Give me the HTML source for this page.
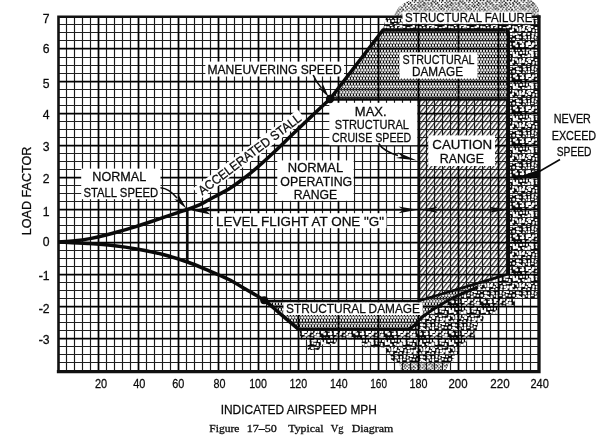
<!DOCTYPE html>
<html lang="en"><head><meta charset="utf-8"><title>Typical Vg Diagram</title>
<style>html,body{margin:0;padding:0;background:#fff}body{width:601px;height:438px;overflow:hidden}svg{display:block}.s{font-family:"Liberation Sans",sans-serif;font-size:12.8px;fill:#0a0a0a;stroke:#0a0a0a;stroke-width:.27px}.c{font-family:"Liberation Serif",serif;font-size:10.4px;fill:#111;stroke:#111;stroke-width:.3px}</style></head><body>
<svg width="601" height="438" viewBox="0 0 601 438">
<defs>
<pattern id="fine" width="3" height="5.5" patternUnits="userSpaceOnUse"><rect width="3" height="5.5" fill="#0c0c0c"/><rect x="-0.45" y="0.2" width="2.4" height="2.35" rx=".7" fill="#fff"/><rect x="1.05" y="2.95" width="2.4" height="2.35" rx=".7" fill="#fff"/><rect x="-1.95" y="2.95" width="2.4" height="2.35" rx=".7" fill="#fff"/></pattern>
<pattern id="coarse" width="32" height="32" patternUnits="userSpaceOnUse"><rect width="32" height="32" fill="#0c0c0c"/><g fill="#fff"><rect x="0.46" y="1.13" width="2.5" height="2.56" rx=".9"/><rect x="32.46" y="1.13" width="2.5" height="2.56" rx=".9"/><rect x="2.83" y="0.13" width="2.74" height="2.99" rx=".9"/><rect x="2.83" y="32.13" width="2.74" height="2.99" rx=".9"/><rect x="6.12" y="-0.6" width="3.01" height="2.84" rx=".9"/><rect x="6.12" y="31.4" width="3.01" height="2.84" rx=".9"/><rect x="10.73" y="1.12" width="2.78" height="2.72" rx=".9"/><rect x="12.53" y="0.61" width="1.89" height="2.09" rx=".9"/><rect x="12.53" y="32.61" width="1.89" height="2.09" rx=".9"/><rect x="15.48" y="-0" width="2.46" height="3.06" rx=".9"/><rect x="15.48" y="32" width="2.46" height="3.06" rx=".9"/><rect x="19.67" y="0.36" width="2.79" height="2.49" rx=".9"/><rect x="19.67" y="32.36" width="2.79" height="2.49" rx=".9"/><rect x="23.42" y="1.11" width="3.06" height="2.86" rx=".9"/><rect x="25.73" y="-0.28" width="1.91" height="2.95" rx=".9"/><rect x="25.73" y="31.72" width="1.91" height="2.95" rx=".9"/><rect x="-2.56" y="-0.15" width="3.24" height="3.07" rx=".9"/><rect x="-2.56" y="31.85" width="3.24" height="3.07" rx=".9"/><rect x="29.44" y="-0.15" width="3.24" height="3.07" rx=".9"/><rect x="29.44" y="31.85" width="3.24" height="3.07" rx=".9"/><rect x="3.94" y="3.54" width="3.27" height="2.4" rx=".9"/><rect x="7.14" y="4.36" width="2.2" height="1.93" rx=".9"/><rect x="11.09" y="4.21" width="1.98" height="2.17" rx=".9"/><rect x="12.53" y="4.04" width="2.07" height="2.64" rx=".9"/><rect x="16.01" y="3.86" width="2" height="2.77" rx=".9"/><rect x="19.55" y="2.63" width="2.2" height="3.26" rx=".9"/><rect x="22.57" y="4.34" width="2.12" height="2.39" rx=".9"/><rect x="25.83" y="2.98" width="3.28" height="2.12" rx=".9"/><rect x="-2.2" y="3.52" width="2.24" height="1.91" rx=".9"/><rect x="29.8" y="3.52" width="2.24" height="1.91" rx=".9"/><rect x="0.41" y="6.33" width="2.7" height="2.36" rx=".9"/><rect x="32.41" y="6.33" width="2.7" height="2.36" rx=".9"/><rect x="4.34" y="6.42" width="2.66" height="3.1" rx=".9"/><rect x="5.83" y="7.69" width="3.03" height="2.17" rx=".9"/><rect x="10.61" y="7.22" width="2.09" height="3.23" rx=".9"/><rect x="13.62" y="6.92" width="1.96" height="1.86" rx=".9"/><rect x="16.01" y="6.87" width="2.19" height="3.04" rx=".9"/><rect x="18.97" y="6.43" width="2.88" height="1.9" rx=".9"/><rect x="22.75" y="7.56" width="2.72" height="2.22" rx=".9"/><rect x="25.54" y="5.85" width="2.2" height="2.47" rx=".9"/><rect x="28.46" y="6.75" width="2.66" height="2" rx=".9"/><rect x="0.95" y="10.69" width="2.79" height="2.84" rx=".9"/><rect x="3.2" y="8.73" width="1.83" height="3.17" rx=".9"/><rect x="7.5" y="9.03" width="2.75" height="2.52" rx=".9"/><rect x="9.9" y="10.84" width="1.91" height="2.62" rx=".9"/><rect x="13.73" y="10.16" width="2.86" height="2.99" rx=".9"/><rect x="15.74" y="10" width="3.15" height="3.11" rx=".9"/><rect x="20.02" y="10.52" width="2.66" height="2.74" rx=".9"/><rect x="23.2" y="10.03" width="1.92" height="2.76" rx=".9"/><rect x="26.73" y="10.18" width="2.38" height="2.9" rx=".9"/><rect x="-2.68" y="10.38" width="1.93" height="2.93" rx=".9"/><rect x="29.32" y="10.38" width="1.93" height="2.93" rx=".9"/><rect x="3.34" y="12.61" width="2.85" height="2.55" rx=".9"/><rect x="7.89" y="12.81" width="1.82" height="2.25" rx=".9"/><rect x="9.06" y="12.38" width="3.16" height="2.79" rx=".9"/><rect x="13.74" y="13.02" width="2.8" height="2.1" rx=".9"/><rect x="16.62" y="14" width="3.12" height="2.38" rx=".9"/><rect x="19.18" y="12.18" width="2.54" height="3.06" rx=".9"/><rect x="23.29" y="14.23" width="2.22" height="2.05" rx=".9"/><rect x="25.56" y="12.49" width="2.42" height="2.74" rx=".9"/><rect x="-3.59" y="13.8" width="3.27" height="2.48" rx=".9"/><rect x="28.41" y="13.8" width="3.27" height="2.48" rx=".9"/><rect x="-0.22" y="16.88" width="1.86" height="2.86" rx=".9"/><rect x="31.78" y="16.88" width="1.86" height="2.86" rx=".9"/><rect x="3.52" y="17.15" width="1.83" height="2" rx=".9"/><rect x="6.02" y="17.22" width="2.16" height="2.01" rx=".9"/><rect x="10.07" y="16.11" width="2.74" height="2.78" rx=".9"/><rect x="14.22" y="16.69" width="2.1" height="2.51" rx=".9"/><rect x="15.23" y="16.51" width="2.87" height="2.07" rx=".9"/><rect x="19.22" y="16.61" width="2.58" height="2.72" rx=".9"/><rect x="22.22" y="17.19" width="3.16" height="1.93" rx=".9"/><rect x="26.38" y="15.53" width="2.48" height="2.74" rx=".9"/><rect x="-3.39" y="16.23" width="3.12" height="3" rx=".9"/><rect x="28.61" y="16.23" width="3.12" height="3" rx=".9"/><rect x="0.48" y="19.65" width="2.11" height="2.88" rx=".9"/><rect x="32.48" y="19.65" width="2.11" height="2.88" rx=".9"/><rect x="4.01" y="19.64" width="2.12" height="3.15" rx=".9"/><rect x="7.41" y="19.73" width="2.99" height="2.28" rx=".9"/><rect x="10.91" y="19.28" width="1.92" height="2.46" rx=".9"/><rect x="13.99" y="19.27" width="1.84" height="3.01" rx=".9"/><rect x="17.02" y="18.69" width="2.3" height="2.98" rx=".9"/><rect x="18.69" y="19.3" width="2.89" height="3.06" rx=".9"/><rect x="23.24" y="19.82" width="3.22" height="1.93" rx=".9"/><rect x="25.8" y="19.02" width="2.89" height="2.76" rx=".9"/><rect x="-2.08" y="19.73" width="2.27" height="2.37" rx=".9"/><rect x="29.92" y="19.73" width="2.27" height="2.37" rx=".9"/><rect x="0.82" y="21.82" width="3.08" height="3.25" rx=".9"/><rect x="3.64" y="22.15" width="2.6" height="2.55" rx=".9"/><rect x="5.82" y="23.69" width="2.57" height="2.4" rx=".9"/><rect x="9.9" y="23.03" width="2.84" height="1.9" rx=".9"/><rect x="12.64" y="23.77" width="3.19" height="2.2" rx=".9"/><rect x="15.38" y="22.3" width="3.02" height="3.15" rx=".9"/><rect x="19.09" y="21.82" width="2.73" height="3.19" rx=".9"/><rect x="23.49" y="22.02" width="2.09" height="2.14" rx=".9"/><rect x="25.5" y="22.75" width="2.73" height="1.96" rx=".9"/><rect x="28.6" y="22.97" width="2.18" height="2.1" rx=".9"/><rect x="0.27" y="25.67" width="2.42" height="2.59" rx=".9"/><rect x="32.27" y="25.67" width="2.42" height="2.59" rx=".9"/><rect x="2.86" y="26.15" width="2.76" height="2.59" rx=".9"/><rect x="7.14" y="26.42" width="2.15" height="2.91" rx=".9"/><rect x="10.83" y="25.26" width="2.27" height="3.18" rx=".9"/><rect x="14.35" y="26.86" width="2" height="2.16" rx=".9"/><rect x="15.62" y="25.22" width="3.05" height="2.43" rx=".9"/><rect x="18.68" y="26.1" width="2.83" height="1.83" rx=".9"/><rect x="22.72" y="27" width="3.25" height="1.97" rx=".9"/><rect x="26.28" y="26.16" width="2.83" height="2.08" rx=".9"/><rect x="28.34" y="25.04" width="2.63" height="2.57" rx=".9"/><rect x="-0.12" y="28.27" width="2.11" height="3.06" rx=".9"/><rect x="31.88" y="28.27" width="2.11" height="3.06" rx=".9"/><rect x="4.66" y="28.02" width="1.89" height="3.23" rx=".9"/><rect x="7.25" y="-3.22" width="2.5" height="2.57" rx=".9"/><rect x="7.25" y="28.78" width="2.5" height="2.57" rx=".9"/><rect x="9.97" y="27.94" width="2.85" height="3.07" rx=".9"/><rect x="13.11" y="-2.19" width="2.41" height="2.09" rx=".9"/><rect x="13.11" y="29.81" width="2.41" height="2.09" rx=".9"/><rect x="16.05" y="27.98" width="3.14" height="3" rx=".9"/><rect x="20.28" y="-2.7" width="2.41" height="2.7" rx=".9"/><rect x="20.28" y="29.3" width="2.41" height="2.7" rx=".9"/><rect x="23.82" y="-2.6" width="2.19" height="3.17" rx=".9"/><rect x="23.82" y="29.4" width="2.19" height="3.17" rx=".9"/><rect x="26.52" y="-2.57" width="2.41" height="3.14" rx=".9"/><rect x="26.52" y="29.43" width="2.41" height="3.14" rx=".9"/><rect x="-2.7" y="-2.3" width="2.95" height="2.41" rx=".9"/><rect x="-2.7" y="29.7" width="2.95" height="2.41" rx=".9"/><rect x="29.3" y="-2.3" width="2.95" height="2.41" rx=".9"/><rect x="29.3" y="29.7" width="2.95" height="2.41" rx=".9"/></g></pattern>
<pattern id="dots" width="27.2" height="27.2" patternUnits="userSpaceOnUse"><path fill="#0c0c0c" d="M-0.07 0.15h1.32v1.46h-1.32zM3.82 -0.26h1.11v1.6h-1.11zM6.56 -0.03h1.7v1.38h-1.7zM10.64 0.24h1.48v1.19h-1.48zM13.88 0.34h1.41v1.54h-1.41zM17.24 -0.18h1.55v1.45h-1.55zM20.24 -0.17h1.62v1.38h-1.62zM24.1 0.29h1.53v1.65h-1.53zM1.76 1.93h1.37v1.66h-1.37zM5.74 1.65h1.18v1.23h-1.18zM9.08 1.87h1.48v1.28h-1.48zM12.1 1.74h1.31v1.45h-1.31zM15.48 2h1.51v1.66h-1.51zM19.16 2.29h1.5v1.2h-1.5zM22.49 2.15h1.64v1.44h-1.64zM25.76 1.63h1.6v1.44h-1.6zM-0.17 3.1h1.61v1.69h-1.61zM3.17 3.87h1.35v1.19h-1.35zM6.63 3.87h1.62v1.13h-1.62zM10.4 3.28h1.53v1.3h-1.53zM14.13 3.74h1.4v1.7h-1.4zM16.93 3.39h1.46v1.12h-1.46zM20.21 3.59h1.47v1.19h-1.47zM23.55 3.67h1.29v1.68h-1.29zM2.26 5.16h1.38v1.41h-1.38zM5.38 5.28h1.44v1.47h-1.44zM9.11 5.19h1.36v1.53h-1.36zM11.64 5.1h1.69v1.41h-1.69zM15.52 4.88h1.35v1.45h-1.35zM18.33 5.46h1.48v1.14h-1.48zM22.32 5.27h1.51v1.31h-1.51zM26 5.55h1.11v1.14h-1.11zM0.4 7.29h1.25v1.37h-1.25zM3.68 6.88h1.32v1.29h-1.32zM6.88 7.05h1.28v1.33h-1.28zM10.6 6.55h1.44v1.54h-1.44zM13.47 6.83h1.58v1.24h-1.58zM16.78 7.02h1.52v1.16h-1.52zM20.27 6.85h1.6v1.36h-1.6zM24.35 6.67h1.3v1.49h-1.3zM2.32 8.73h1.24v1.17h-1.24zM5.19 8.33h1.58v1.6h-1.58zM8.24 8.45h1.58v1.49h-1.58zM12.47 8.6h1.18v1.28h-1.18zM15.79 8.51h1.31v1.35h-1.31zM18.64 8.69h1.65v1.19h-1.65zM21.64 8.81h1.63v1.69h-1.63zM25.46 9.05h1.66v1.23h-1.66zM0.35 10.58h1.5v1.41h-1.5zM3.42 10.37h1.24v1.14h-1.24zM6.95 10.34h1.59v1.13h-1.59zM10.63 10.37h1.65v1.64h-1.65zM14.3 10.33h1.11v1.55h-1.11zM16.77 10.2h1.5v1.41h-1.5zM20.43 10.7h1.47v1.3h-1.47zM23.71 10.52h1.39v1.57h-1.39zM1.69 11.74h1.42v1.59h-1.42zM4.79 12.16h1.65v1.58h-1.65zM8.93 11.6h1.48v1.62h-1.48zM11.67 11.88h1.26v1.42h-1.26zM15.29 12.18h1.57v1.1h-1.57zM18.52 11.92h1.17v1.14h-1.17zM22.85 12.3h1.15v1.4h-1.15zM25.51 11.88h1.31v1.49h-1.31zM0.33 13.7h1.21v1.3h-1.21zM3.11 13.82h1.53v1.33h-1.53zM6.57 13.49h1.32v1.46h-1.32zM10.54 13.63h1.58v1.47h-1.58zM13.68 13.6h1.4v1.52h-1.4zM17.08 13.96h1.38v1.25h-1.38zM20.71 13.91h1.14v1.35h-1.14zM23.74 14.05h1.66v1.32h-1.66zM2.32 15.66h1.26v1.38h-1.26zM4.82 15.55h1.5v1.63h-1.5zM8.87 15.55h1.54v1.44h-1.54zM11.8 15.62h1.1v1.19h-1.1zM15.85 15.25h1.16v1.16h-1.16zM19.37 15.12h1.11v1.6h-1.11zM21.82 15.59h1.5v1.6h-1.5zM26.01 15.64h1.58v1.12h-1.58zM0.35 17.28h1.53v1.16h-1.53zM3.93 17.51h1.14v1.29h-1.14zM7.09 17.48h1.25v1.21h-1.25zM10.02 17.26h1.55v1.34h-1.55zM13.66 17.1h1.31v1.35h-1.31zM16.59 17.18h1.68v1.35h-1.68zM20.74 16.84h1.51v1.55h-1.51zM24.13 17.12h1.39v1.49h-1.39zM2.37 18.53h1.16v1.55h-1.16zM5.68 18.8h1.37v1.53h-1.37zM8.43 18.66h1.22v1.45h-1.22zM11.81 18.53h1.51v1.67h-1.51zM15.27 18.89h1.35v1.61h-1.35zM19.02 18.83h1.23v1.11h-1.23zM22.33 18.81h1.2v1.32h-1.2zM25.58 18.89h1.19v1.69h-1.19zM0.14 20.52h1.38v1.6h-1.38zM3.88 20.52h1.39v1.53h-1.39zM7.24 20.34h1.54v1.68h-1.54zM10.4 20.3h1.24v1.53h-1.24zM13.82 20.95h1.61v1.25h-1.61zM16.93 20.32h1.21v1.52h-1.21zM20.98 20.72h1.25v1.62h-1.25zM23.69 20.62h1.54v1.15h-1.54zM1.51 22.53h1.28v1.31h-1.28zM5.48 22.42h1.1v1.3h-1.1zM8.67 22.21h1.23v1.45h-1.23zM12.49 22.29h1.43v1.17h-1.43zM15.34 22.25h1.17v1.63h-1.17zM19.13 22.01h1.66v1.32h-1.66zM22.58 22.38h1.28v1.51h-1.28zM25.87 22.39h1.26v1.55h-1.26zM0.6 24.19h1.42v1.17h-1.42zM3.48 23.79h1.53v1.51h-1.53zM6.97 23.69h1.49v1.48h-1.49zM9.98 24.34h1.49v1.17h-1.49zM14.23 23.63h1.3v1.53h-1.3zM17.2 24h1.49v1.37h-1.49zM20.49 23.66h1.14v1.53h-1.14zM24.13 24.02h1.54v1.32h-1.54zM1.5 25.71h1.62v1.13h-1.62zM5.17 25.52h1.56v1.31h-1.56zM8.47 25.5h1.42v1.56h-1.42zM12.02 25.96h1.17v1.26h-1.17zM14.97 25.31h1.57v1.54h-1.57zM18.56 25.36h1.35v1.55h-1.35zM22.54 25.93h1.46v1.19h-1.46zM25.54 25.42h1.42v1.44h-1.42z"/></pattern>
<pattern id="hatch" width="3.5" height="8" patternUnits="userSpaceOnUse" patternTransform="rotate(38)"><rect x="1" y="0" width="1.05" height="8" fill="#0a0a0a"/></pattern>
<clipPath id="gridclip"><rect x="58.5" y="16.81" width="480.48" height="353.87"/></clipPath>
</defs>
<rect width="601" height="438" fill="#fff"/>
<path d="M394 17 L395 13 L399 7 L406 2 L412 0 L531 0 L536 4 L539 10 L539 17 Z" fill="url(#dots)"/>
<path d="M66.5 16.81V370.68M74.5 16.81V370.68M82.5 16.81V370.68M90.5 16.81V370.68M106.5 16.81V370.68M114.5 16.81V370.68M122.5 16.81V370.68M130.5 16.81V370.68M146.5 16.81V370.68M154.5 16.81V370.68M162.5 16.81V370.68M170.5 16.81V370.68M186.5 16.81V370.68M194.5 16.81V370.68M202.5 16.81V370.68M210.5 16.81V370.68M226.5 16.81V370.68M234.5 16.81V370.68M242.5 16.81V370.68M250.5 16.81V370.68M266.5 16.81V370.68M274.5 16.81V370.68M282.5 16.81V370.68M290.5 16.81V370.68M306.5 16.81V370.68M314.5 16.81V370.68M322.5 16.81V370.68M330.5 16.81V370.68M346.5 16.81V370.68M354.5 16.81V370.68M362.5 16.81V370.68M370.5 16.81V370.68M386.5 16.81V370.68M394.5 16.81V370.68M402.5 16.81V370.68M410.5 16.81V370.68M426.5 16.81V370.68M434.5 16.81V370.68M442.5 16.81V370.68M450.5 16.81V370.68M466.5 16.81V370.68M474.5 16.81V370.68M482.5 16.81V370.68M490.5 16.81V370.68M506.5 16.81V370.68M514.5 16.81V370.68M522.5 16.81V370.68M530.5 16.81V370.68" stroke="#181818" stroke-width="1.15" fill="none"/>
<path d="M386 16.81 L538.98 16.81 L538.98 298.8 L515 299 L513.5 307 L498 307 L496.5 315 L484 315 L482.5 323 L478 323 L476.5 331 L475 331 L473.5 339 L467 339 L465.5 347 L460 347 L458.5 355 L455 355 L453 363 L398 363 L392 363 L390 355 L387 355 L385 347.5 L363 347.5 L361 339.5 L337 339.5 L336 344 L321 344.5 L319 350 L308 350 L307 339.5 L301 339.5 L298.6 329.3 L408.5 329.3 L414 325.8 L421.6 317.4 L432.5 309.8 L443.3 303.3 L454 297.3 L465 292.3 L478 287 L486.6 280.6 L508.3 274 L508.3 30 L383 30 Z" fill="url(#coarse)"/>
<path d="M399 363 H449 L446 370 H401 Z" fill="url(#dots)"/>
<path d="M330 99 L383 30 L508.3 30 L508.3 99.5 Z" fill="url(#fine)"/>
<path d="M264.2 300.3 L280.6 314.1 L298.6 329.3 L408.5 329.3 L414 325.8 L421.6 317.4 L432.5 309.8 L443.3 303.3 L454 297.3 L465 292.3 L478 287 L508.3 274 L486.6 280.6 L465 287 L443.3 293.5 L421.6 300 L418.9 300.8 Z" fill="url(#fine)"/>
<path d="M418.9 99.5 L508.3 99.5 L508.3 274 L486.6 280.6 L465 287 L443.3 293.5 L421.6 300 L418.9 300.8 Z" fill="url(#hatch)"/>
<path d="M58.5 362.5H538.98M58.5 354.5H538.98M58.5 346.5H538.98M58.5 330.5H538.98M58.5 322.5H538.98M58.5 314.5H538.98M58.5 298.5H538.98M58.5 290.5H538.98M58.5 282.5H538.98M58.5 266.5H538.98M58.5 258.5H538.98M58.5 250.5H538.98M58.5 233.5H538.98M58.5 225.5H538.98M58.5 217.5H538.98M58.5 201.5H538.98M58.5 193.5H538.98M58.5 185.5H538.98M58.5 169.5H538.98M58.5 161.5H538.98M58.5 153.5H538.98M58.5 137.5H538.98M58.5 129.5H538.98M58.5 121.5H538.98M58.5 105.5H538.98M58.5 97.5H538.98M58.5 89.5H538.98M58.5 73.5H538.98M58.5 65.5H538.98M58.5 57.5H538.98M58.5 40.5H538.98M58.5 32.5H538.98M58.5 24.5H538.98" stroke="#202020" stroke-width="1.15" fill="none"/>
<path d="M98.5 16.81V370.68M138.5 16.81V370.68M178.5 16.81V370.68M218.5 16.81V370.68M258.5 16.81V370.68M298.5 16.81V370.68M338.5 16.81V370.68M378.5 16.81V370.68M418.5 16.81V370.68M458.5 16.81V370.68M498.5 16.81V370.68M58.5 338.5H538.98M58.5 306.5H538.98M58.5 274.5H538.98M58.5 242.5H538.98M58.5 209.5H538.98M58.5 177.5H538.98M58.5 145.5H538.98M58.5 113.5H538.98M58.5 81.5H538.98M58.5 48.5H538.98" stroke="#000" stroke-width="1.75" fill="none"/>
<path d="M58.5 16.81V370.68M58.5 16.81H538.98" stroke="#111" stroke-width="2.6" fill="none" stroke-linecap="square"/>
<path d="M538.98 16.81V371.58H58.5" stroke="#111" stroke-width="3.3" fill="none" stroke-linecap="square"/>
<rect x="402.5" y="11.5" width="129" height="12.3" fill="#fff"/>
<rect x="399.5" y="52.4" width="78" height="26.2" fill="#fff"/>
<rect x="205.4" y="61.6" width="138.6" height="14.9" fill="#fff"/>
<rect x="329.3" y="102.8" width="88.1" height="42.4" fill="#fff"/>
<rect x="428.3" y="135.4" width="66.7" height="30.6" fill="#fff"/>
<rect x="81.2" y="168.6" width="79.3" height="30.6" fill="#fff"/>
<rect x="277.3" y="160.4" width="76.4" height="40.4" fill="#fff"/>
<rect x="213" y="213.2" width="173.5" height="15" fill="#fff"/>
<rect x="283.5" y="302.5" width="139.2" height="12.5" fill="#fff"/>
<g transform="translate(202.3 195.5) rotate(-37)"><rect x="-3" y="-11.3" width="131" height="13.2" fill="#fff"/><text class="s" x="0" y="0" textLength="125.3" lengthAdjust="spacingAndGlyphs">ACCELERATED STALL</text></g>
<path d="M58.5 242 C61.25 241.8 69.75 241.37 75 240.8 C80.25 240.23 85 239.52 90 238.6 C95 237.68 100 236.52 105 235.3 C110 234.08 115 232.72 120 231.3 C125 229.88 130 228.35 135 226.8 C140 225.25 145 223.65 150 222 C155 220.35 160 218.6 165 216.9 C170 215.2 176.33 213.03 180 211.8 C183.67 210.57 183.67 210.7 187 209.5 C190.33 208.3 195.33 206.77 200 204.6 C204.67 202.43 210 199.23 215 196.5 C220 193.77 225 191.37 230 188.2 C235 185.03 240 181.37 245 177.5 C250 173.63 255 169.38 260 165 C265 160.62 270 155.9 275 151.2 C280 146.5 285 141.58 290 136.8 C295 132.02 300 127.25 305 122.5 C310 117.75 315.83 112.22 320 108.3 C324.17 104.38 328.33 100.55 330 99 L383 30 L505.3 30" stroke="#0a0a0a" stroke-width="3.5" fill="none" stroke-linejoin="round"/>
<path d="M505.3 30 Q508.3 30 508.3 33 V274" stroke="#0a0a0a" stroke-width="3.5" fill="none"/>
<path d="M58.5 242 C63.37 242.25 78.65 242.92 87.7 243.5 C96.75 244.08 104.42 244.55 112.8 245.5 C121.18 246.45 129.63 247.7 138 249.2 C146.37 250.7 154.75 252.37 163 254.5 C171.25 256.63 180.05 259.38 187.5 262 C194.95 264.62 200.98 267.37 207.7 270.2 C214.42 273.03 221.52 275.87 227.8 279 C234.08 282.13 239.33 285.45 245.4 289 C251.47 292.55 258.33 296.12 264.2 300.3 C270.07 304.48 274.87 309.27 280.6 314.1 C286.33 318.93 295.6 326.77 298.6 329.3" stroke="#0a0a0a" stroke-width="3.5" fill="none" stroke-linejoin="round"/>
<path d="M298.6 329.3 L408.5 329.3 L414 325.8 L421.6 317.4 L432.5 309.8 L443.3 303.3 L454 297.3 L465 292.3 L478 287" stroke="#0a0a0a" stroke-width="3" fill="none" stroke-linejoin="round"/>
<path d="M264.2 300.8 H418.9" stroke="#0a0a0a" stroke-width="2.2" fill="none"/>
<path d="M418.9 300.8 L421.6 300 L443.3 293.5 L465 287 L486.6 280.6 L508.3 274" stroke="#0a0a0a" stroke-width="2.8" fill="none" stroke-linejoin="round"/>
<path d="M330 99.5 H508.3" stroke="#0a0a0a" stroke-width="2.4" fill="none"/>
<path d="M418.9 99.5 V300.8" stroke="#0a0a0a" stroke-width="2.6" fill="none"/>
<path d="M187.4 209.5 V262" stroke="#0a0a0a" stroke-width="2.4" fill="none"/>
<circle cx="330" cy="99" r="4.2" fill="#0a0a0a"/>
<circle cx="264.2" cy="300.3" r="4" fill="#0a0a0a"/>
<path d="M200 210.4 L410 209.8 M428 209.8 H500" stroke="#0a0a0a" stroke-width="1.6" fill="none"/>
<path d="M191.5 210.4 L210.5 206.4 L205.75 210.4 L210.5 214.4 Z" fill="#0a0a0a"/>
<path d="M417.5 209.8 L398.5 213.2 L403.25 209.8 L398.5 206.4 Z" fill="#0a0a0a"/>
<path d="M420.8 209.8 L437.8 206.8 L433.55 209.8 L437.8 212.8 Z" fill="#0a0a0a"/>
<path d="M507.3 209.8 L489.3 212.8 L493.8 209.8 L489.3 206.8 Z" fill="#0a0a0a"/>
<path d="M313.2 75 Q316 82 321.5 88" stroke="#0a0a0a" stroke-width="1.5" fill="none"/>
<path d="M328.8 97.3 L318.14 87.74 L322.63 88.81 L323 84.21 Z" fill="#0a0a0a"/>
<path d="M160.5 187.8 Q169 188.5 177 198" stroke="#0a0a0a" stroke-width="1.5" fill="none"/>
<path d="M186.4 208.6 L174.29 199.25 L179.02 200.11 L178.82 195.31 Z" fill="#0a0a0a"/>
<path d="M378.6 143.5 Q384 151.5 398 155.6" stroke="#0a0a0a" stroke-width="1.6" fill="none"/>
<path d="M417 160.6 L395.96 157.97 L401.79 156.52 L397.47 152.36 Z" fill="#0a0a0a"/>
<path d="M560 159.5 L538 172.3" stroke="#0a0a0a" stroke-width="1.6" fill="none"/>
<path d="M539 169.8 L511 179.6 L539.5 176.8 Z" fill="#0a0a0a"/>
<text class="s" x="405" y="21.8" textLength="127.5" lengthAdjust="spacingAndGlyphs">STRUCTURAL FAILURE</text>
<text class="s" x="402.5" y="63.6" textLength="72" lengthAdjust="spacingAndGlyphs">STRUCTURAL</text>
<text class="s" x="412" y="76.4" textLength="51" lengthAdjust="spacingAndGlyphs">DAMAGE</text>
<text class="s" x="207.5" y="73.6" textLength="134.2" lengthAdjust="spacingAndGlyphs">MANEUVERING SPEED</text>
<text class="s" x="354.8" y="115.8" textLength="31.8" lengthAdjust="spacingAndGlyphs">MAX.</text>
<text class="s" x="334.8" y="128.7" textLength="74.2" lengthAdjust="spacingAndGlyphs">STRUCTURAL</text>
<text class="s" x="332" y="142.3" textLength="79.3" lengthAdjust="spacingAndGlyphs">CRUISE SPEED</text>
<text class="s" x="432.3" y="149.3" textLength="59.9" lengthAdjust="spacingAndGlyphs">CAUTION</text>
<text class="s" x="439.8" y="162.8" textLength="44.2" lengthAdjust="spacingAndGlyphs">RANGE</text>
<text class="s" x="92.3" y="180.5" textLength="53.9" lengthAdjust="spacingAndGlyphs">NORMAL</text>
<text class="s" x="83.4" y="196.6" textLength="74.8" lengthAdjust="spacingAndGlyphs">STALL SPEED</text>
<text class="s" x="287.8" y="172.4" textLength="55.4" lengthAdjust="spacingAndGlyphs">NORMAL</text>
<text class="s" x="280.3" y="185.8" textLength="71.9" lengthAdjust="spacingAndGlyphs">OPERATING</text>
<text class="s" x="293.8" y="198.5" textLength="43.4" lengthAdjust="spacingAndGlyphs">RANGE</text>
<text class="s" x="216" y="226.2" textLength="168" lengthAdjust="spacingAndGlyphs">LEVEL FLIGHT AT ONE &quot;G&quot;</text>
<text class="s" x="286" y="313.3" textLength="134" lengthAdjust="spacingAndGlyphs">STRUCTURAL DAMAGE</text>
<text class="s" x="553.8" y="123.2" textLength="37.1" lengthAdjust="spacingAndGlyphs">NEVER</text>
<text class="s" x="551.7" y="139.9" textLength="44.5" lengthAdjust="spacingAndGlyphs">EXCEED</text>
<text class="s" x="556.8" y="155.8" textLength="34.7" lengthAdjust="spacingAndGlyphs">SPEED</text>
<text class="s" x="220.7" y="414" textLength="156.2" lengthAdjust="spacingAndGlyphs">INDICATED AIRSPEED MPH</text>
<text class="s" style="font-size:12.2px;stroke-width:.5px" x="49.6" y="343.91" text-anchor="end">-<tspan style="stroke-width:.27px">3</tspan></text>
<text class="s" style="font-size:12.2px;stroke-width:.5px" x="49.6" y="312.64" text-anchor="end">-<tspan style="stroke-width:.27px">2</tspan></text>
<text class="s" style="font-size:12.2px;stroke-width:.5px" x="49.6" y="280.07" text-anchor="end">-<tspan style="stroke-width:.27px">1</tspan></text>
<text class="s" style="font-size:12.2px" x="49.6" y="245.7" text-anchor="end">0</text>
<text class="s" style="font-size:12.2px" x="49.6" y="216.33" text-anchor="end">1</text>
<text class="s" style="font-size:12.2px" x="49.6" y="183.26" text-anchor="end">2</text>
<text class="s" style="font-size:12.2px" x="49.6" y="150.69" text-anchor="end">3</text>
<text class="s" style="font-size:12.2px" x="49.6" y="118.82" text-anchor="end">4</text>
<text class="s" style="font-size:12.2px" x="49.6" y="87.75" text-anchor="end">5</text>
<text class="s" style="font-size:12.2px" x="49.6" y="52.98" text-anchor="end">6</text>
<text class="s" style="font-size:12.2px" x="49.6" y="22.81" text-anchor="end">7</text>
<text class="s" x="95" y="388.4" textLength="12.2" lengthAdjust="spacingAndGlyphs">20</text>
<text class="s" x="133.2" y="388.4" textLength="12.2" lengthAdjust="spacingAndGlyphs">40</text>
<text class="s" x="172.3" y="388.4" textLength="12.1" lengthAdjust="spacingAndGlyphs">60</text>
<text class="s" x="213.5" y="388.4" textLength="12" lengthAdjust="spacingAndGlyphs">80</text>
<text class="s" x="249.2" y="388.4" textLength="17.8" lengthAdjust="spacingAndGlyphs">100</text>
<text class="s" x="289.4" y="388.4" textLength="17.8" lengthAdjust="spacingAndGlyphs">120</text>
<text class="s" x="330" y="388.4" textLength="17.6" lengthAdjust="spacingAndGlyphs">140</text>
<text class="s" x="370.3" y="388.4" textLength="16.7" lengthAdjust="spacingAndGlyphs">160</text>
<text class="s" x="409.4" y="388.4" textLength="18" lengthAdjust="spacingAndGlyphs">180</text>
<text class="s" x="448.5" y="388.4" textLength="19.1" lengthAdjust="spacingAndGlyphs">200</text>
<text class="s" x="490.3" y="388.4" textLength="19.4" lengthAdjust="spacingAndGlyphs">220</text>
<text class="s" x="530.4" y="387.5" textLength="18.4" lengthAdjust="spacingAndGlyphs">240</text>
<text class="s" transform="translate(30.6 235.2) rotate(-90)" x="0" y="0" textLength="88.5" lengthAdjust="spacingAndGlyphs">LOAD FACTOR</text>
<text class="c" y="432.4"><tspan x="209.3" textLength="30.2" lengthAdjust="spacingAndGlyphs">Figure</tspan> <tspan x="246.7" textLength="30.2" lengthAdjust="spacingAndGlyphs">17–50</tspan> <tspan x="288.3" textLength="35.2" lengthAdjust="spacingAndGlyphs">Typical</tspan> <tspan x="330.7" textLength="12.8" lengthAdjust="spacingAndGlyphs">Vg</tspan> <tspan x="351.7" textLength="41.6" lengthAdjust="spacingAndGlyphs">Diagram</tspan></text>
</svg></body></html>
